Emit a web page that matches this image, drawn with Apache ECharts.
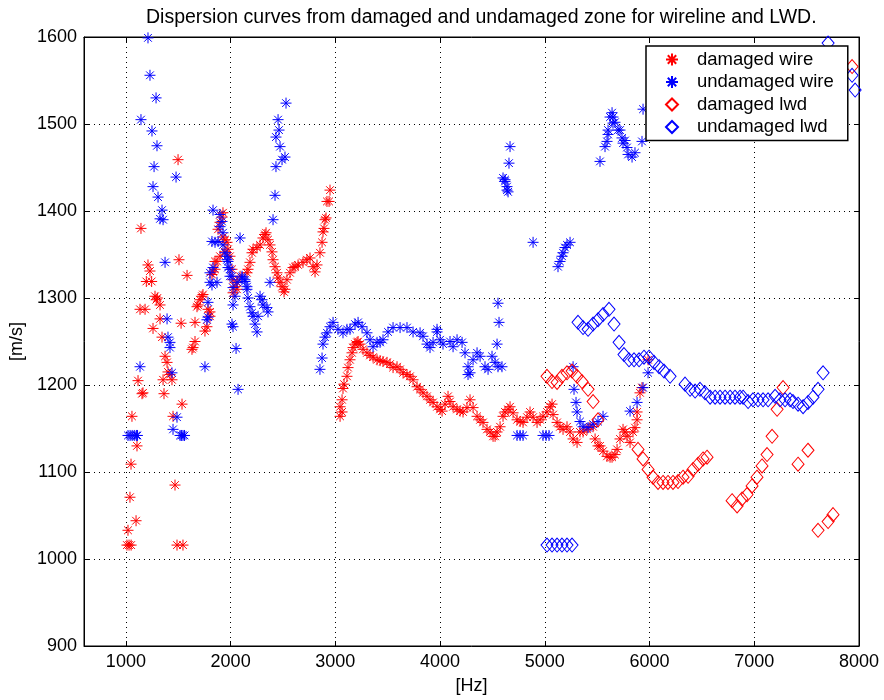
<!DOCTYPE html>
<html>
<head>
<meta charset="utf-8">
<script src="https://cdn.jsdelivr.net/npm/echarts@6/dist/echarts.min.js"></script>
<style>
  html, body { margin: 0; padding: 0; background: #fff; }
  #chart { width: 884px; height: 700px; }
</style>
</head>
<body>
<div id="chart"></div>
<script>
// Dispersion curves: [frequency Hz, velocity m/s]
const titleText = 'Dispersion curves from damaged and undamaged zone for wireline and LWD.';
const seriesNames = ['damaged wire', 'undamaged wire', 'damaged lwd', 'undamaged lwd'];
const xTicks = [1000, 2000, 3000, 4000, 5000, 6000, 7000, 8000];

const damagedWire = [
  [1010,1016],[1030,1016],[1050,1016],[1020,1033],[1039,1071],[1097,1044],[1049,1109],[1106,1130],
  [1058,1164],[1116,1205],[1154,1190],[1163,1191],[1135,1287],[1183,1287],[1144,1380],[1195,1319],
  [1246,1319],[1211,1338],[1230,1331],[1278,1302],[1290,1298],[1300,1300],[1326,1292],[1326,1276],
  [1259,1265],[1345,1255],[1374,1233],[1393,1226],[1402,1215],[1421,1212],[1355,1206],[1440,1206],
  [1364,1190],[1450,1164],[1469,1085],[1488,1016],[1545,1016],[1507,1344],[1498,1459],[1584,1326],
  [1527,1271],[1536,1178],
  [1631,1241],[1641,1243],[1660,1250],[1660,1272],[1679,1290],[1689,1292],[1708,1298],[1727,1302],
  [1736,1304],[1755,1262],[1774,1267],[1784,1287],[1803,1279],[1803,1284],[1822,1327],[1832,1330],
  [1851,1342],[1851,1333],[1870,1342],[1899,1348],[1946,1353],
  [1880,1379],[1899,1387],[1918,1393],[1927,1398],[1927,1370],[1946,1367],[1966,1364],[1975,1356],
  [1994,1348],[2013,1333],[2023,1321],[2023,1306],[2042,1313],[2061,1310],[2061,1318],
  [2090,1325],[2156,1329],[2166,1333],[2185,1341],[2204,1352],[2214,1356],[2252,1358],[2281,1361],
  [2309,1369],[2328,1373],[2338,1375],[2357,1367],[2376,1361],[2395,1353],[2405,1344],[2424,1336],
  [2443,1329],[2453,1323],[2472,1318],[2491,1313],[2510,1307],[2519,1310],[2538,1321],[2567,1329],
  [2596,1335],[2615,1336],[2644,1338],[2691,1341],[2729,1344],[2758,1346],[2787,1336],[2806,1330],
  [2825,1338],[2853,1352],[2873,1364],[2882,1376],[2892,1380],[2901,1390],[2911,1392],[2920,1411],
  [2940,1411],[2949,1424],
  [3045,1175],[3064,1169],[3045,1164],[3064,1183],[3073,1196],[3083,1201],[3111,1210],[3121,1220],
  [3140,1229],[3159,1237],[3169,1243],[3188,1247],[3207,1249],[3217,1250],[3236,1247],[3264,1241],
  [3302,1237],[3331,1234],[3360,1232],[3398,1229],[3427,1228],[3455,1227],[3493,1226],[3522,1224],
  [3551,1220],[3589,1221],[3618,1218],[3647,1214],[3684,1212],[3713,1210],[3742,1206],[3780,1198],
  [3809,1195],[3837,1191],[3875,1187],[3904,1183],[3933,1180],[3971,1175],[4000,1172],[4019,1170],
  [4047,1178],[4076,1187],[4095,1181],[4124,1175],[4162,1172],[4191,1170],[4219,1169],[4257,1174],
  [4286,1183],[4315,1174],[4353,1164],[4382,1160],[4410,1157],[4448,1149],[4477,1146],[4506,1141],
  [4525,1141],[4544,1146],[4573,1152],[4601,1164],[4620,1169],[4649,1172],[4668,1175],[4697,1168],
  [4735,1160],[4764,1158],[4792,1157],[4830,1163],[4859,1169],[4888,1163],[4926,1157],[4955,1160],
  [4983,1164],[5021,1169],[5050,1175],[5069,1178],[5079,1166],[5117,1157],[5145,1152],[5174,1149],
  [5212,1152],[5241,1146],[5270,1138],[5308,1134],[5336,1146],[5365,1146],[5403,1149],[5432,1152],
  [5461,1152],[5480,1138],[5508,1130],[5527,1130],[5556,1124],[5594,1118],[5623,1117],[5642,1117],
  [5670,1120],[5690,1126],[5718,1138],[5747,1149],[5766,1146],[5785,1141],[5814,1134],[5842,1146],
  [5861,1151],[5881,1160],[5881,1169],[5909,1191],[5928,1197],[5986,1229]
];

const undamagedWire = [
  [1020,1142],[1040,1142],[1060,1142],[1080,1142],[1100,1142],[1110,1142],
  [1517,1142],[1530,1142],[1545,1142],[1560,1142],
  [1211,1599],[1230,1556],[1288,1530],[1144,1505],[1249,1492],[1297,1475],[1269,1451],[1259,1428],
  [1307,1416],[1345,1401],[1326,1391],[1355,1390],[1479,1439],[1374,1341],[1393,1276],[1402,1255],
  [1421,1249],[1421,1243],[1440,1214],[1135,1221],[1488,1163],[1450,1149],[1755,1221],
  [1832,1401],[1899,1396],[1918,1388],[1899,1382],[1927,1375],[1822,1365],[1851,1364],[1880,1365],
  [1927,1361],[1966,1348],[1975,1342],[1994,1333],[2013,1325],[2090,1369],[1832,1335],[1803,1318],
  [1870,1318],[1822,1315],[2023,1312],[2042,1302],[2023,1292],[2109,1323],[2137,1319],[2156,1310],
  [2166,1300],[2185,1290],[2204,1283],[2214,1279],[2233,1270],[2252,1261],[2262,1279],[2281,1302],
  [2300,1298],[2309,1292],[2347,1289],[2357,1284],[2376,1318],[2013,1270],[2023,1267],[2052,1242],
  [2071,1195],[1784,1295],[1784,1278],[1774,1275],[1803,1329],[1946,1352],[1966,1344],[1975,1335],
  [1994,1325],[2061,1318],[2109,1325],[2137,1321],[2156,1313],
  [2405,1390],[2424,1418],[2433,1451],[2491,1459],[2519,1462],[2472,1474],[2433,1485],[2462,1493],
  [2453,1505],[2529,1524],
  [2853,1218],[2873,1231],[2882,1247],[2901,1255],[2920,1260],[2949,1267],[2978,1272],[3025,1264],
  [3073,1260],[3111,1264],[3140,1264],[3188,1270],[3217,1272],[3255,1267],[3302,1260],[3331,1252],
  [3360,1244],[3398,1249],[3427,1249],[3455,1252],[3503,1261],[3551,1266],[3618,1266],[3684,1266],
  [3742,1261],[3809,1260],[3837,1256],[3875,1247],[3904,1243],[3933,1249],[3971,1261],[3971,1264],
  [4000,1252],[4028,1247],[4095,1250],[4124,1244],[4162,1252],[4210,1249],[4238,1237],[4267,1221],
  [4267,1212],[4286,1214],[4315,1229],[4353,1237],[4382,1233],[4429,1221],[4458,1218],[4496,1233],
  [4525,1226],[4553,1221],[4591,1221],[4544,1247],[4563,1272],[4553,1294],
  [4601,1438],[4620,1436],[4620,1434],[4639,1428],[4639,1424],[4649,1422],[4658,1455],[4668,1474],
  [4888,1364],
  [5126,1336],[5145,1342],[5164,1348],[5174,1352],[5193,1358],[5212,1361],[5241,1364],
  [4735,1142],[4764,1142],[4792,1142],[4983,1142],[5012,1142],[5040,1142],
  [5270,1221],[5279,1195],[5298,1180],[5308,1169],
  [5336,1158],[5365,1152],[5413,1151],[5461,1155],[5508,1158],[5556,1164],
  [5814,1170],[5881,1180],[5938,1197],[5986,1214],
  [5527,1457],[5575,1474],[5594,1480],[5604,1488],[5642,1513],[5651,1508],[5670,1502],[5699,1493],
  [5737,1484],[5747,1478],[5785,1473],[5795,1465],[5833,1462],[5861,1467],[5928,1480],[5938,1517],
  [5623,1508],[5651,1501],[5604,1493],[5718,1493],[5766,1481]
];

const damagedLwd = [
  [5021,1210],[5069,1204],[5117,1203],[5164,1210],[5212,1214],[5260,1216],[5308,1210],[5355,1204],
  [5413,1195],[5461,1181],[5508,1160],
  [5890,1126],[5938,1115],[5986,1103],[6033,1094],[6081,1088],[6129,1088],[6176,1088],[6224,1088],
  [6272,1089],[6320,1094],[6368,1095],[6415,1103],[6463,1109],[6511,1115],[6549,1117],
  [6788,1067],[6836,1061],[6883,1069],[6931,1074],[6979,1084],[7026,1094],[7074,1107],[7122,1120],
  [7170,1141],[7218,1172],[7275,1197],[7418,1109],[7513,1125],[7609,1033],[7705,1043],[7752,1051],
  [7934,1566]
];

const undamagedLwd = [
  [5021,1016],[5069,1016],[5117,1016],[5164,1016],[5212,1016],[5260,1016],
  [5317,1272],[5365,1266],[5413,1264],[5461,1270],[5508,1275],[5556,1281],[5613,1287],[5661,1270],
  [5709,1249],[5756,1235],[5804,1229],[5852,1229],[5900,1229],[5947,1232],[5995,1232],[6043,1226],
  [6091,1221],[6138,1216],[6196,1210],[6339,1201],[6387,1195],[6435,1193],[6482,1195],[6530,1191],
  [6578,1186],[6626,1186],[6673,1186],[6721,1186],[6769,1186],[6816,1186],[6864,1186],[6893,1186],
  [6941,1181],[6988,1183],[7036,1183],[7084,1183],[7132,1183],[7199,1187],[7246,1183],[7294,1183],
  [7342,1183],[7370,1181],[7418,1178],[7466,1175],[7513,1180],[7561,1186],[7609,1195],[7657,1214],
  [7705,1593],[7934,1556],[7963,1539]
];

const FONT = '"Liberation Sans", Arial, Helvetica, sans-serif';
const STAR = 'path://M0,5L10,5M5,0L5,10M1.5,1.5L8.5,8.5M8.5,1.5L1.5,8.5';
const plainNumber = v => String(v);

function markerSeries(name, data, symbol, size, color) {
  return {
    name: name,
    type: 'scatter',
    data: data,
    symbol: symbol,
    symbolSize: size,
    itemStyle: { color: 'rgba(0,0,0,0)', borderColor: color, borderWidth: 1, opacity: 1 },
    emphasis: { disabled: true },
    silent: true
  };
}

const chart = echarts.init(document.getElementById('chart'), null, { renderer: 'canvas' });
chart.setOption({
  animation: false,
  backgroundColor: '#fff',
  title: {
    text: titleText,
    left: 141, top: 3,
    textStyle: { fontFamily: FONT, fontSize: 19.5, fontWeight: 'normal', color: '#000' }
  },
  grid: { left: 84, right: 25, top: 37, bottom: 53, show: true, borderColor: '#000', borderWidth: 1, backgroundColor: '#fff' },
  legend: {
    orient: 'vertical',
    left: 646, top: 46,
    padding: [4, 14, 4, 19],
    itemWidth: 12, itemHeight: 12, itemGap: 3.5,
    borderColor: '#000', borderWidth: 1.5, backgroundColor: '#fff',
    textStyle: { fontFamily: FONT, fontSize: 18.5, color: '#000', padding: [0, 0, 0, 14] },
    data: seriesNames
  },
  xAxis: [{
    type: 'value', min: 600, max: 8000,
    name: '[Hz]', nameLocation: 'middle', nameGap: 31,
    nameTextStyle: { fontFamily: FONT, fontSize: 18, color: '#000' },
    axisLine: { show: true, lineStyle: { color: '#000', width: 1 } },
    axisTick: { show: true, inside: true, length: 5, customValues: xTicks, lineStyle: { color: '#000' } },
    axisLabel: { show: true, customValues: xTicks, formatter: plainNumber, margin: 7, fontFamily: FONT, fontSize: 18, color: '#000' },
    splitLine: { show: true, lineStyle: { color: '#000', type: [1, 4], width: 1 } }
  }, {
    type: 'value', min: 600, max: 8000, position: 'top',
    axisLine: { show: true, lineStyle: { color: '#000', width: 1 } },
    axisTick: { show: true, inside: true, length: 5, customValues: xTicks, lineStyle: { color: '#000' } },
    axisLabel: { show: false },
    splitLine: { show: false }
  }],
  yAxis: [{
    type: 'value', min: 900, max: 1600, interval: 100,
    name: '[m/s]', nameLocation: 'middle', nameGap: 56,
    nameTextStyle: { fontFamily: FONT, fontSize: 18, color: '#000' },
    axisLine: { show: true, lineStyle: { color: '#000', width: 1 } },
    axisTick: { show: true, inside: true, length: 5, lineStyle: { color: '#000' } },
    axisLabel: { margin: 7, formatter: plainNumber, fontFamily: FONT, fontSize: 18, color: '#000' },
    splitLine: { show: true, lineStyle: { color: '#000', type: [1, 4], width: 1 } }
  }, {
    type: 'value', min: 900, max: 1600, interval: 100, position: 'right',
    axisLine: { show: true, lineStyle: { color: '#000', width: 1 } },
    axisTick: { show: true, inside: true, length: 5, lineStyle: { color: '#000' } },
    axisLabel: { show: false },
    splitLine: { show: false }
  }],
  series: [
    markerSeries(seriesNames[0], damagedWire, STAR, 11, '#ff0000'),
    markerSeries(seriesNames[1], undamagedWire, STAR, 11, '#0000ff'),
    markerSeries(seriesNames[2], damagedLwd, 'diamond', [12, 14], '#ff0000'),
    markerSeries(seriesNames[3], undamagedLwd, 'diamond', [12, 14], '#0000ff')
  ]
});
</script>
</body>
</html>
